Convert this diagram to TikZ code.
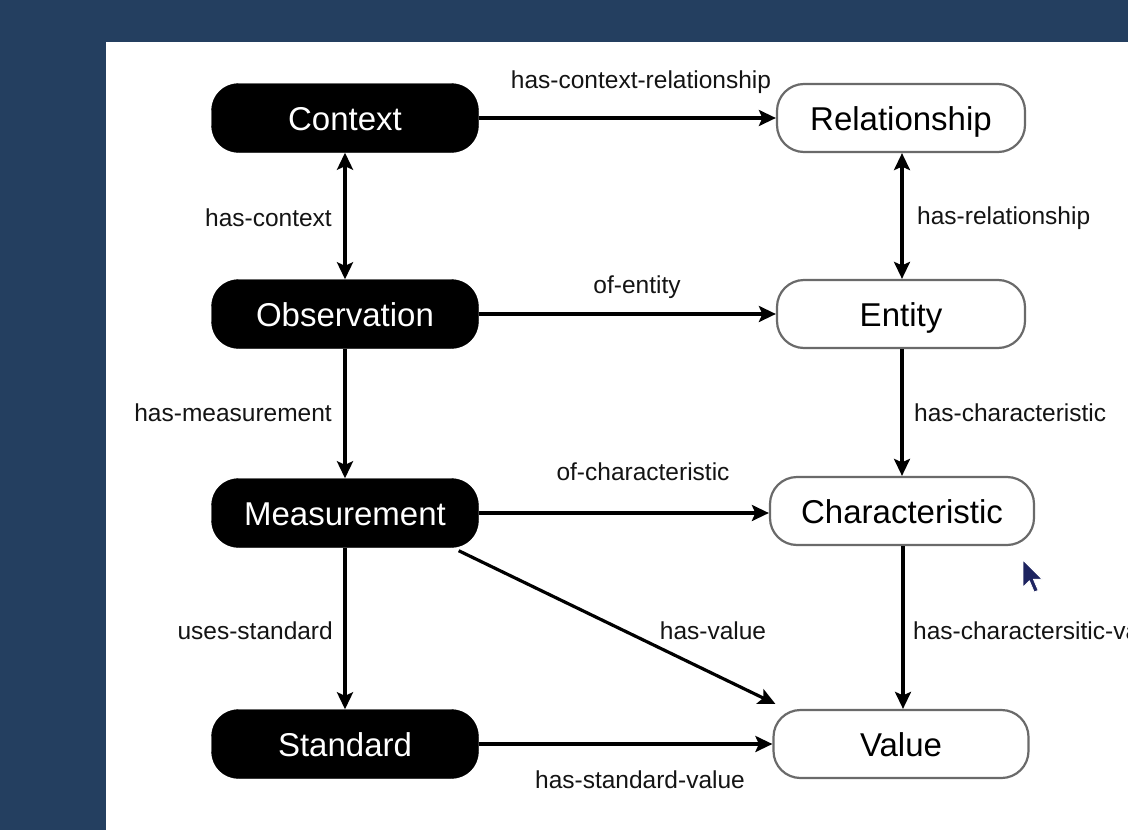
\documentclass[tikz,border=0pt]{standalone}
\usepackage{fontspec}
\setmainfont{Liberation Sans}
\usetikzlibrary{arrows.meta}
\definecolor{bgblue}{HTML}{243F60}
\definecolor{cursorblue}{HTML}{1E2460}
\definecolor{boxgray}{HTML}{6A6A6A}
\tikzset{
  blackbox/.style={rectangle, rounded corners=27pt, fill=black, draw=black, text=white,
    minimum width=267pt, minimum height=69pt, inner sep=0pt,
    text height=24pt, text depth=0pt,
    font=\fontsize{33}{40}\selectfont},
  whitebox/.style={rectangle, rounded corners=27pt, fill=white, draw=boxgray, line width=2.2pt, text=black,
    minimum height=68pt, inner sep=0pt,
    text height=24pt, text depth=0pt,
    font=\fontsize{33}{40}\selectfont},
  arr/.style={line width=3.2pt, -{Stealth[length=17pt,width=16pt,inset=3.5pt]}},
  dbl/.style={line width=3.2pt, {Stealth[length=17pt,width=16pt,inset=3.5pt]}-{Stealth[length=17pt,width=16pt,inset=3.5pt]}},
  lbl/.style={font=\fontsize{24.5}{30}\selectfont, text=black!92, inner sep=0pt}
}
\begin{document}
\begin{tikzpicture}[x=1pt,y=-1pt]
\useasboundingbox (0,0) rectangle (1128,830);
\clip (0,0) rectangle (1128,830);
\fill[bgblue] (0,0) rectangle (1128,830);
\fill[white] (106,42) rectangle (1140,840);

% nodes
\node[blackbox] (ctx) at (345,118) {Context};
\node[blackbox] (obs) at (345,314) {Observation};
\node[blackbox] (meas) at (345,513) {Measurement};
\node[blackbox] (std) at (345,744) {Standard};

\node[whitebox, minimum width=248pt] (rel) at (901,118) {Relationship};
\node[whitebox, minimum width=248pt] (ent) at (901,314) {Entity};
\node[whitebox, minimum width=264pt] (chr) at (902,511) {Characteristic};
\node[whitebox, minimum width=255pt] (val) at (901,744) {Value};

% connectors
\draw[arr] (ctx) -- (rel);
\draw[dbl] (ctx) -- (obs);
\draw[dbl] (rel.south -| 902,0) -- (ent.north -| 902,0);
\draw[arr] (obs) -- (ent);
\draw[arr] (obs) -- (meas);
\draw[arr] (ent.south -| 902,0) -- (chr.north -| 902,0);
\draw[arr] (meas) -- (chr.west |- meas);
\draw[arr] (meas) -- (std);
\draw[arr] (chr.south -| 903,0) -- (val.north -| 903,0);
\draw[arr] ([xshift=-20pt,yshift=-3pt]meas.south east) -- ([xshift=3pt,yshift=5pt]val.north west);
\draw[arr] (std) -- (val);

% labels
\node[lbl] (l1) at (641,82) {has-context-relationship};
\node[lbl, anchor=east] (l2) at (332,218) {has-context};
\node[lbl, anchor=west] (l3) at (917,218) {has-relationship};
\node[lbl] (l4) at (637,287) {of-entity};
\node[lbl, anchor=east] (l5) at (332,413) {has-measurement};
\node[lbl, anchor=west] (l6) at (914,413) {has-characteristic};
\node[lbl] (l7) at (643,472) {of-characteristic};
\node[lbl, anchor=east] (l8) at (333,631) {uses-standard};
\node[lbl] (l9) at (713,631) {has-value};
\node[lbl, anchor=west] (l10) at (913,631) {has-charactersitic-value};
\node[lbl] (l11) at (640,780) {has-standard-value};

% mouse cursor
\begin{scope}[shift={(1023,560)}, scale=1.6]
\filldraw[fill=cursorblue, draw=white, line width=0.8pt, line join=round]
  (0,0) -- (0,17) -- (4,13) -- (7,20) -- (9.5,19) -- (6.5,12) -- (12,12) -- cycle;
\end{scope}
\end{tikzpicture}
\end{document}
